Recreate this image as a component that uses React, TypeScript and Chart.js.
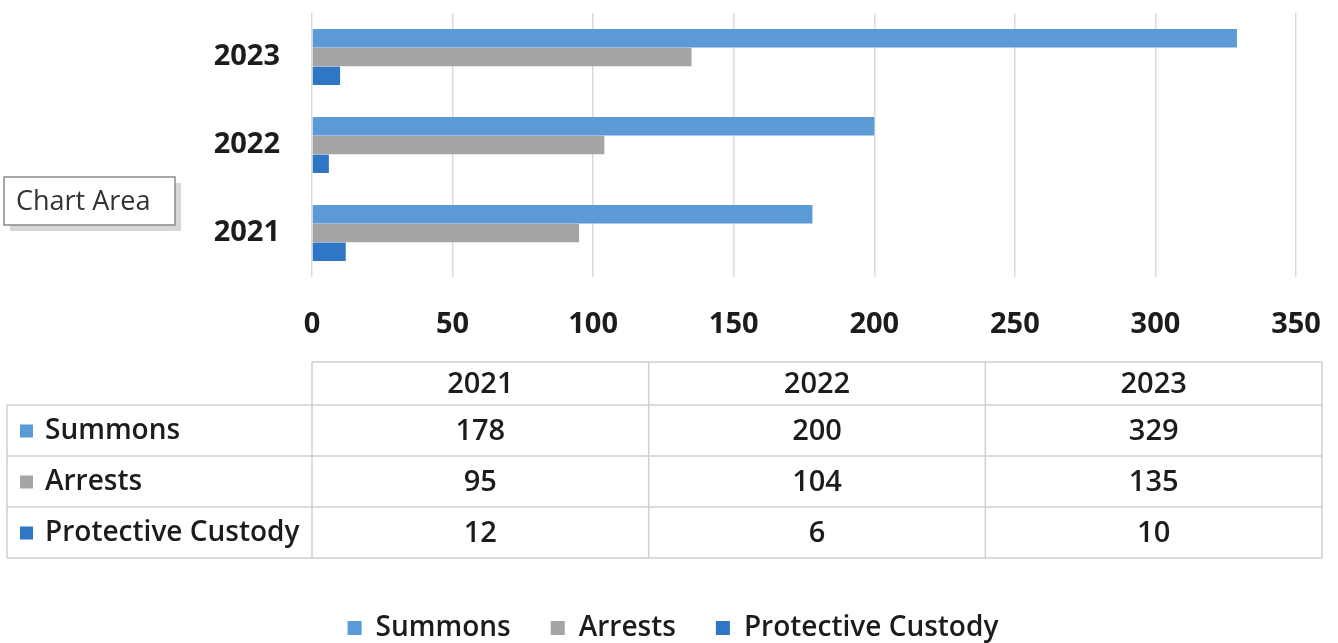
import React, { useEffect, useRef } from 'react';
import { Chart, registerables } from 'chart.js';

Chart.register(...registerables);

const years = ['2021', '2022', '2023'];
const seriesNames = ['Summons', 'Arrests', 'Protective Custody'];
const summons = [178, 200, 329];
const arrests = [95, 104, 135];
const protectiveCustody = [12, 6, 10];
const seriesColors = ['#5B9BD5', '#A5A5A5', '#2F76C6'];
const xMin = 0;
const xMax = 350;
const xStep = 50;
const calloutText = 'Chart Area';

const FONT = '"Open Sans", "DejaVu Sans", sans-serif';
const TEXT = '#1c1c1c';
const LEGEND_FONT = 28;
const LEGEND_PAD = 40;
const LEGEND_H = LEGEND_FONT + LEGEND_PAD + 10;
const BOTTOM_PAD = -9;
const PLOT_BOTTOM = 277;

const overlayPlugin = {
  id: 'overlay',
  afterDraw(chart: any) {
    const ctx = chart.ctx as CanvasRenderingContext2D;
    const area = chart.chartArea;
    const series = [summons, arrests, protectiveCustody];

    // ---- data table ----
    const tLeft = 7;
    const cLeft = area.left;
    const cRight = 1322;
    const colW = (cRight - cLeft) / years.length;
    const yTop = 362;
    const rows = [405, 456, 507, 558];
    ctx.save();
    ctx.strokeStyle = '#cfcfcf';
    ctx.lineWidth = 1.5;
    ctx.beginPath();
    ctx.moveTo(cLeft, yTop);
    ctx.lineTo(cRight, yTop);
    rows.forEach((y) => {
      ctx.moveTo(tLeft, y);
      ctx.lineTo(cRight, y);
    });
    ctx.moveTo(tLeft, rows[0]);
    ctx.lineTo(tLeft, rows[rows.length - 1]);
    for (let i = 0; i <= years.length; i++) {
      const x = cLeft + colW * i;
      ctx.moveTo(x, yTop);
      ctx.lineTo(x, rows[rows.length - 1]);
    }
    ctx.stroke();

    ctx.fillStyle = TEXT;
    ctx.textAlign = 'center';
    ctx.textBaseline = 'middle';
    ctx.font = `600 29px ${FONT}`;
    years.forEach((yr, i) => {
      ctx.fillText(yr, cLeft + colW * (i + 0.5), (yTop + rows[0]) / 2 + 1);
    });
    series.forEach((vals, r) => {
      const cy = (rows[r] + rows[r + 1]) / 2 + 1;
      ctx.font = `600 29px ${FONT}`;
      vals.forEach((v, i) => {
        ctx.fillStyle = TEXT;
        ctx.textAlign = 'center';
        ctx.fillText(String(v), cLeft + colW * (i + 0.5), cy);
      });
      ctx.fillStyle = seriesColors[r];
      ctx.fillRect(20, cy - 7, 13, 13);
      ctx.fillStyle = TEXT;
      ctx.textAlign = 'left';
      ctx.font = `600 28px ${FONT}`;
      ctx.fillText(seriesNames[r], 45, cy);
    });

    // ---- "Chart Area" callout ----
    const bx = 4, by = 177, bw = 171, bh = 48;
    ctx.fillStyle = 'rgba(0,0,0,0.16)';
    ctx.fillRect(bx + 6, by + 6, bw, bh);
    ctx.fillStyle = '#ffffff';
    ctx.fillRect(bx, by, bw, bh);
    ctx.strokeStyle = '#8a8a8a';
    ctx.lineWidth = 1.5;
    ctx.strokeRect(bx, by, bw, bh);
    ctx.fillStyle = '#333333';
    ctx.textAlign = 'left';
    ctx.textBaseline = 'middle';
    ctx.font = `27px ${FONT}`;
    ctx.fillText(calloutText, bx + 12, by + bh / 2 + 1);
    ctx.restore();
  },
};

export default function App() {
  const ref = useRef<HTMLCanvasElement | null>(null);

  useEffect(() => {
    if (!ref.current) return;
    const chart = new Chart(ref.current, {
      type: 'bar',
      data: {
        labels: years,
        datasets: [
          { label: seriesNames[0], data: summons, backgroundColor: seriesColors[0] },
          { label: seriesNames[1], data: arrests, backgroundColor: seriesColors[1] },
          { label: seriesNames[2], data: protectiveCustody, backgroundColor: seriesColors[2] },
        ],
      },
      options: {
        indexAxis: 'y',
        animation: false,
        responsive: false,
        maintainAspectRatio: false,
        datasets: {
          bar: { categoryPercentage: 0.64, barPercentage: 0.98 },
        },
        layout: { padding: { top: 13, left: 50, right: 42, bottom: BOTTOM_PAD } },
        scales: {
          y: {
            reverse: true,
            grid: { display: false, drawTicks: false },
            border: { display: false },
            ticks: {
              padding: 32,
              color: TEXT,
              font: { family: FONT, size: 29, weight: 'bold' },
            },
            afterFit: (scale: any) => {
              scale.width = 262;
              scale.paddingTop = 0;
              scale.paddingBottom = 0;
            },
          },
          x: {
            min: xMin,
            max: xMax,
            grid: { color: '#d9d9d9', lineWidth: 1.5, drawTicks: false },
            border: { display: false },
            ticks: {
              stepSize: xStep,
              padding: 30,
              color: TEXT,
              font: { family: FONT, size: 29, weight: 'bold' },
            },
            afterFit: (scale: any) => {
              scale.height = 643 - PLOT_BOTTOM - LEGEND_H - BOTTOM_PAD;
              scale.paddingLeft = 0;
              scale.paddingRight = 0;
            },
          },
        },
        plugins: {
          legend: {
            position: 'bottom',
            labels: {
              boxWidth: 14,
              boxHeight: 14,
              padding: LEGEND_PAD,
              color: TEXT,
              font: { family: FONT, size: LEGEND_FONT, weight: '600' },
            },
          },
          tooltip: { enabled: false },
        },
      },
      plugins: [overlayPlugin],
    } as any);
    return () => chart.destroy();
  }, []);

  return (
    <div style={{ position: 'fixed', left: 0, top: 0, width: 1338, height: 643, background: '#fff' }}>
      <canvas ref={ref} width={1338} height={643} style={{ display: 'block', width: 1338, height: 643 }} />
    </div>
  );
}
